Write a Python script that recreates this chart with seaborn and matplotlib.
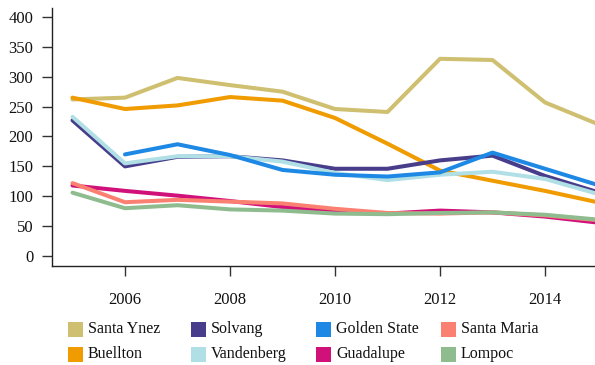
import numpy as np
import pandas as pd
import matplotlib
matplotlib.use("Agg")
import matplotlib.pyplot as plt
from matplotlib.patches import Rectangle
import seaborn as sns

years = list(range(2005, 2016))

santa_ynez   = [262, 265, 298, 286, 275, 246, 241, 330, 328, 257, 221]
buellton     = [265, 246, 252, 266, 260, 231, 188, 143, 126, 109, 90]
solvang      = [227, 150, 166, 167, 160, 146, 146, 160, 168, 134, 107]
vandenberg   = [233, 155, 167, 167, 158, 139, 127, 136, 141, 129, 104]
golden_state = [np.nan, 170, 187, 169, 144, 136, 133, 140, 173, 146, 119]
guadalupe    = [118, 109, 101, 92, 82, 74, 71, 76, 73, 66, 56]
santa_maria  = [122, 90, 94, 91, 88, 79, 72, 71, 73, 68, 60]
lompoc       = [106, 80, 85, 78, 76, 71, 70, 72, 73, 69, 61]

cities = ["Santa Ynez", "Buellton", "Solvang", "Vandenberg",
          "Golden State", "Guadalupe", "Santa Maria", "Lompoc"]
series = [santa_ynez, buellton, solvang, vandenberg,
          golden_state, guadalupe, santa_maria, lompoc]
colors = ["#CFBF70", "#F09B00", "#483D8B", "#B0E0E6",
          "#1E88E5", "#D0117A", "#FA8072", "#8FBC8F"]

x_ticks = [2006, 2008, 2010, 2012, 2014]
y_ticks = [0, 50, 100, 150, 200, 250, 300, 350, 400]

df = pd.DataFrame(
    [(y, c, v) for c, vals in zip(cities, series) for y, v in zip(years, vals)],
    columns=["year", "city", "value"],
)

sns.set_style("ticks")
plt.rcParams["font.family"] = ["Liberation Serif", "DejaVu Serif"]

W, H = 595, 365
fig = plt.figure(figsize=(W / 100, H / 100), dpi=100)
ax = fig.add_axes([52 / W, 1 - 266 / H, 545.5 / W, 258 / H])

sns.lineplot(data=df, x="year", y="value", hue="city", hue_order=cities,
             palette=colors, linewidth=2.9, legend=False, ax=ax)

ax.set_xlim(2004.61, 2015.0)
ax.set_ylim(-16.7, 415)
ax.set_xticks(x_ticks)
ax.set_yticks(y_ticks)
ax.set_xlabel("")
ax.set_ylabel("")
sns.despine(ax=ax)
for s in ("left", "bottom"):
    ax.spines[s].set_linewidth(1.0)
    ax.spines[s].set_color("#222222")
ax.tick_params(axis="both", length=7.5, width=1.0, color="#333333",
               labelsize=12, labelcolor="#111111")
ax.tick_params(axis="x", pad=11)
ax.tick_params(axis="y", pad=6)

# Legend: 4 columns x 2 rows of colour squares with names
col_x = [68, 191, 316, 441]
row_y = [329, 354]
sq = 15
for i, (name, col) in enumerate(zip(cities, colors)):
    c, r = divmod(i, 2)
    px, py = col_x[c], row_y[r]
    fig.add_artist(Rectangle((px / W, 1 - (py + sq / 2) / H), sq / W, sq / H,
                             transform=fig.transFigure, facecolor=col,
                             edgecolor="none"))
    fig.text((px + 20) / W, 1 - py / H, name, ha="left", va="center",
             fontsize=11.5, color="#111111")

fig.savefig("out.png", dpi=100)
